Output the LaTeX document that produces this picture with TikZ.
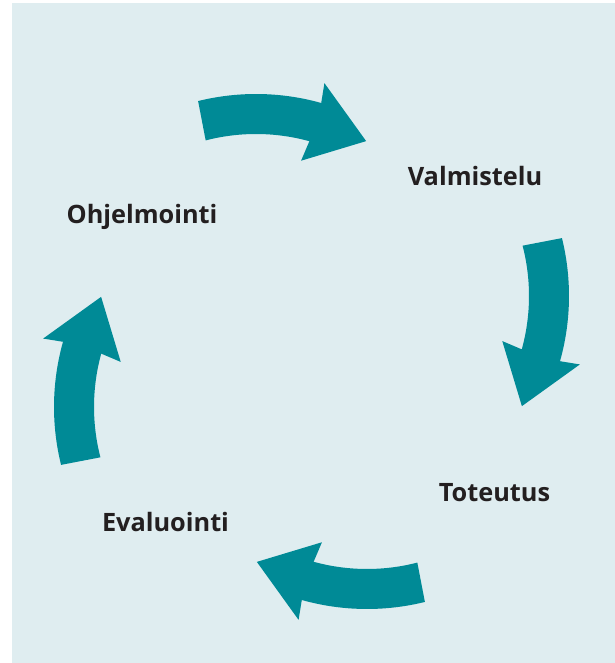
\documentclass[tikz,border=0pt]{standalone}
\usepackage{fontspec}
\setmainfont{Open Sans}
\usetikzlibrary{positioning}
\definecolor{cyclebg}{HTML}{DFEDF0}
\definecolor{cyclearrow}{HTML}{008A96}
\definecolor{labeltext}{HTML}{231F20}
\tikzset{
  phase/.style={font=\bfseries\fontsize{18}{21}\selectfont, text=labeltext,
    inner sep=0pt, anchor=base},
  bentarrow/.style={fill=cyclearrow, draw=none}
}

\begin{document}
\begin{tikzpicture}[x=0.025cm, y=0.025cm]
    \useasboundingbox (0,0) rectangle (615,663);
    \fill[cyclebg] (12,0) rectangle (615,660);
    \foreach \turn in {0,-90,-180,-270}
      \fill[bentarrow, shift={(311.5,311.5)}, rotate=\turn, shift={(-55.5,16.5)}]
        (103.9:241) arc[start angle=103.9, end angle=74.3, radius=241]
        -- (74.8:261) -- (60.4:223) -- (75.5:180) -- (74.6:201)
        arc[start angle=74.6, end angle=104.5, radius=201] -- cycle;
    \node[phase] (valmistelu) at (475,477) {Valmistelu};
    \node[phase] (toteutus) at (494.5,161) {Toteutus};
    \node[phase] (evaluointi) at (165.5,131) {Evaluointi};
    \node[phase] (ohjelmointi) at (142,439) {Ohjelmointi};
  \end{tikzpicture}
\end{document}
